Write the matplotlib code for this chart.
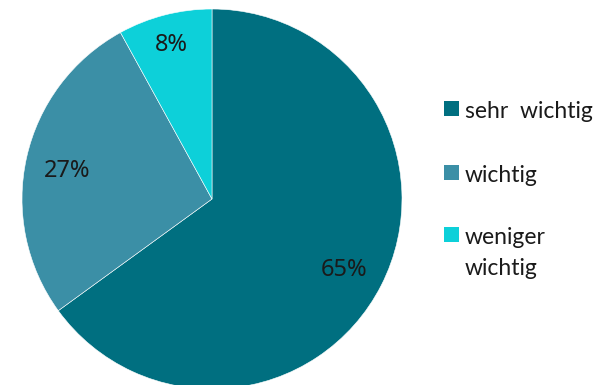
import numpy as np
import matplotlib.pyplot as plt
from matplotlib.patches import Rectangle

labels = ["sehr  wichtig", "wichtig", "weniger\nwichtig"]
shares = [65, 27, 8]
colors = ["#006F80", "#3B8FA6", "#0DD0D9"]

W, H = 594, 385
fig = plt.figure(figsize=(W / 100, H / 100), dpi=100)

# pie centred at (212, 199) px from top-left, radius 190 px
cx, cy, r = 212, H - 199, 190
ax = fig.add_axes([(cx - r) / W, (cy - r) / H, 2 * r / W, 2 * r / H])
wedges, _, pcts = ax.pie(
    shares, colors=colors, startangle=90, counterclock=False,
    autopct=lambda p: f"{p:.0f}%", pctdistance=0.78,
    wedgeprops=dict(edgecolor="white", linewidth=0.4),
    textprops=dict(fontsize=17, family="Noto Sans", color="#1a1a1a"),
)
# small slice label sits a bit further out
ang = np.deg2rad(90 - (sum(shares[:2]) + shares[2] / 2) * 3.6)
pcts[2].set_position((0.86 * np.cos(ang), 0.86 * np.sin(ang)))
# nudge all percentages down a few pixels
for t in pcts:
    x, y = t.get_position()
    t.set_position((x, y - 0.022))
ax.set_xlim(-1, 1)
ax.set_ylim(-1, 1)
ax.set_aspect("equal")
ax.axis("off")

# legend drawn by hand: square marker then label lines
tops = [101, 165, 227]
for lab, col, top in zip(labels, colors, tops):
    fig.patches.append(Rectangle((444 / W, 1 - (top + 15) / H), 15 / W, 15 / H,
                                 transform=fig.transFigure, facecolor=col,
                                 edgecolor="none"))
    for i, line in enumerate(lab.split("\n")):
        fig.text(465 / W, 1 - (top + 17 + 31 * i) / H, line, ha="left",
                 va="baseline", fontsize=16.5, family="Lato", color="#1a1a1a")

fig.savefig("out.png", dpi=100)
